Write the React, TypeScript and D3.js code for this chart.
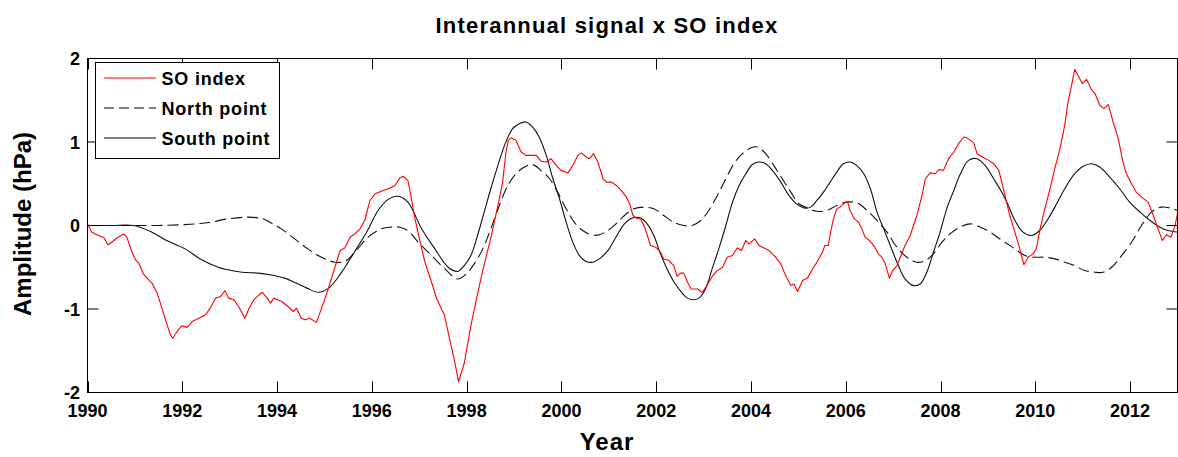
import React from "react";
import * as d3 from "d3";

// Axis ticks
const xTicks = [1990, 1992, 1994, 1996, 1998, 2000, 2002, 2004, 2006, 2008, 2010, 2012];
const yTicks = [-2, -1, 0, 1, 2];

// Series: [year, amplitude in hPa]
const soIndex: [number, number][] = [
  [1990.0, 0.02], [1990.09, -0.08], [1990.23, -0.12], [1990.34, -0.14], [1990.43, -0.23], [1990.51, -0.2],
  [1990.62, -0.15], [1990.76, -0.1], [1990.83, -0.14], [1990.94, -0.32], [1991.01, -0.41], [1991.08, -0.45],
  [1991.18, -0.58], [1991.29, -0.65], [1991.36, -0.69], [1991.47, -0.81], [1991.57, -0.99], [1991.68, -1.19],
  [1991.75, -1.31], [1991.8, -1.35], [1991.89, -1.27], [1991.99, -1.2], [1992.1, -1.22], [1992.21, -1.15],
  [1992.35, -1.11], [1992.49, -1.07], [1992.59, -0.99], [1992.7, -0.87], [1992.81, -0.85], [1992.9, -0.78],
  [1992.98, -0.87], [1993.09, -0.89], [1993.19, -0.97], [1993.32, -1.11], [1993.41, -0.99], [1993.51, -0.89],
  [1993.62, -0.83], [1993.69, -0.8], [1993.79, -0.87], [1993.86, -0.93], [1993.93, -0.87], [1994.1, -0.91],
  [1994.23, -0.97], [1994.34, -1.03], [1994.41, -0.99], [1994.51, -1.11], [1994.59, -1.13], [1994.69, -1.11],
  [1994.83, -1.16], [1994.94, -0.99], [1995.08, -0.76], [1995.22, -0.5], [1995.33, -0.3], [1995.43, -0.27],
  [1995.54, -0.14], [1995.64, -0.1], [1995.75, -0.04], [1995.85, 0.06], [1995.96, 0.3], [1996.07, 0.38],
  [1996.24, 0.42], [1996.38, 0.45], [1996.49, 0.48], [1996.59, 0.57], [1996.66, 0.59], [1996.76, 0.54],
  [1996.81, 0.4], [1996.91, 0.08], [1997.02, -0.2], [1997.12, -0.44], [1997.26, -0.68], [1997.37, -0.88],
  [1997.47, -1.0], [1997.53, -1.07], [1997.63, -1.33], [1997.74, -1.61], [1997.83, -1.87], [1997.95, -1.65],
  [1998.09, -1.2], [1998.23, -0.82], [1998.37, -0.47], [1998.51, -0.15], [1998.66, 0.24], [1998.76, 0.52],
  [1998.83, 0.88], [1998.88, 1.02], [1998.94, 1.05], [1999.04, 1.02], [1999.15, 0.88], [1999.25, 0.84],
  [1999.36, 0.84], [1999.47, 0.84], [1999.57, 0.77], [1999.68, 0.76], [1999.78, 0.8], [1999.89, 0.72],
  [1999.99, 0.66], [2000.14, 0.63], [2000.24, 0.72], [2000.35, 0.84], [2000.42, 0.87], [2000.52, 0.82],
  [2000.59, 0.8], [2000.68, 0.86], [2000.77, 0.76], [2000.88, 0.56], [2000.95, 0.52], [2001.05, 0.52],
  [2001.16, 0.48], [2001.26, 0.42], [2001.37, 0.34], [2001.44, 0.26], [2001.51, 0.12], [2001.6, 0.08],
  [2001.67, 0.08], [2001.77, -0.04], [2001.88, -0.24], [2001.99, -0.26], [2002.09, -0.32], [2002.16, -0.4],
  [2002.27, -0.42], [2002.37, -0.48], [2002.44, -0.61], [2002.51, -0.57], [2002.58, -0.57], [2002.66, -0.68],
  [2002.74, -0.76], [2002.87, -0.76], [2002.97, -0.8], [2003.08, -0.71], [2003.18, -0.61], [2003.29, -0.54],
  [2003.4, -0.5], [2003.5, -0.38], [2003.61, -0.36], [2003.71, -0.27], [2003.8, -0.3], [2003.89, -0.18],
  [2003.96, -0.22], [2004.08, -0.16], [2004.17, -0.24], [2004.28, -0.27], [2004.38, -0.3], [2004.49, -0.36],
  [2004.63, -0.46], [2004.73, -0.6], [2004.84, -0.72], [2004.91, -0.7], [2004.98, -0.79], [2005.09, -0.66],
  [2005.19, -0.63], [2005.3, -0.52], [2005.37, -0.46], [2005.49, -0.34], [2005.56, -0.24], [2005.63, -0.24],
  [2005.68, -0.08], [2005.74, 0.08], [2005.81, 0.2], [2005.88, 0.22], [2005.99, 0.28], [2006.04, 0.28],
  [2006.09, 0.18], [2006.18, 0.08], [2006.27, 0.04], [2006.34, -0.04], [2006.41, -0.14], [2006.5, -0.18],
  [2006.59, -0.24], [2006.69, -0.34], [2006.76, -0.38], [2006.83, -0.45], [2006.92, -0.63], [2006.99, -0.54],
  [2007.08, -0.48], [2007.15, -0.38], [2007.25, -0.24], [2007.36, -0.12], [2007.43, 0.0], [2007.5, 0.12],
  [2007.61, 0.36], [2007.68, 0.56], [2007.78, 0.63], [2007.89, 0.62], [2007.96, 0.67], [2008.06, 0.66],
  [2008.17, 0.8], [2008.28, 0.88], [2008.38, 0.98], [2008.49, 1.06], [2008.56, 1.05], [2008.63, 1.02],
  [2008.7, 0.99], [2008.77, 0.86], [2008.88, 0.82], [2009.02, 0.78], [2009.12, 0.74], [2009.23, 0.66],
  [2009.29, 0.52], [2009.36, 0.36], [2009.46, 0.12], [2009.57, -0.08], [2009.67, -0.28], [2009.76, -0.47],
  [2009.85, -0.38], [2009.95, -0.34], [2010.02, -0.28], [2010.1, -0.04], [2010.2, 0.2], [2010.31, 0.44],
  [2010.41, 0.68], [2010.52, 0.92], [2010.62, 1.2], [2010.69, 1.48], [2010.78, 1.72], [2010.83, 1.87],
  [2010.9, 1.8], [2010.99, 1.7], [2011.08, 1.75], [2011.19, 1.62], [2011.26, 1.58], [2011.36, 1.44],
  [2011.45, 1.4], [2011.54, 1.45], [2011.64, 1.24], [2011.75, 1.04], [2011.85, 0.76], [2011.92, 0.62],
  [2012.03, 0.5], [2012.13, 0.4], [2012.24, 0.34], [2012.38, 0.28], [2012.49, 0.12], [2012.59, -0.04],
  [2012.68, -0.18], [2012.77, -0.11], [2012.86, -0.14], [2012.94, -0.02], [2013.0, 0.14],
];

const northPoint: [number, number][] = [
  [1990.0, 0], [1990.5, 0], [1991.0, 0], [1991.5, 0], [1992.0, 0.01], [1992.3, 0.02], [1992.6, 0.04],
  [1992.97, 0.08], [1993.4, 0.1], [1993.7, 0.08], [1993.85, 0.04], [1994.09, -0.04], [1994.37, -0.16],
  [1994.65, -0.28], [1994.94, -0.38], [1995.22, -0.44], [1995.43, -0.43], [1995.64, -0.32], [1995.92, -0.14],
  [1996.2, -0.04], [1996.41, -0.02], [1996.59, -0.02], [1996.76, -0.06], [1996.98, -0.2], [1997.26, -0.36],
  [1997.54, -0.52], [1997.81, -0.64], [1997.99, -0.58], [1998.16, -0.46], [1998.34, -0.28], [1998.51, -0.04],
  [1998.69, 0.24], [1998.87, 0.48], [1999.04, 0.62], [1999.22, 0.7], [1999.39, 0.73], [1999.57, 0.66],
  [1999.75, 0.56], [1999.92, 0.4], [2000.1, 0.2], [2000.27, 0.04], [2000.45, -0.06], [2000.62, -0.11],
  [2000.8, -0.11], [2000.98, -0.06], [2001.15, 0.02], [2001.33, 0.12], [2001.53, 0.2], [2001.74, 0.22],
  [2001.95, 0.2], [2002.16, 0.12], [2002.37, 0.04], [2002.59, 0.0], [2002.76, 0.0], [2002.94, 0.06],
  [2003.11, 0.18], [2003.29, 0.36], [2003.47, 0.56], [2003.64, 0.74], [2003.82, 0.86], [2004.0, 0.93],
  [2004.13, 0.94], [2004.31, 0.86], [2004.48, 0.72], [2004.66, 0.56], [2004.84, 0.4], [2005.01, 0.26],
  [2005.19, 0.21], [2005.39, 0.17], [2005.6, 0.18], [2005.81, 0.24], [2006.02, 0.28], [2006.24, 0.27],
  [2006.45, 0.18], [2006.66, 0.06], [2006.87, -0.08], [2007.08, -0.26], [2007.29, -0.38], [2007.5, -0.44],
  [2007.68, -0.42], [2007.85, -0.34], [2008.03, -0.2], [2008.2, -0.1], [2008.41, -0.02], [2008.63, 0.02],
  [2008.84, -0.02], [2009.05, -0.08], [2009.2, -0.14], [2009.36, -0.2], [2009.57, -0.28], [2009.78, -0.36],
  [2009.99, -0.38], [2010.2, -0.38], [2010.41, -0.4], [2010.62, -0.44], [2010.83, -0.48], [2011.04, -0.54],
  [2011.26, -0.56], [2011.43, -0.56], [2011.61, -0.5], [2011.82, -0.36], [2012.03, -0.2], [2012.24, 0.0],
  [2012.45, 0.16], [2012.66, 0.22], [2012.84, 0.21], [2013.0, 0.18],
];

const southPoint: [number, number][] = [
  [1990.0, 0], [1990.5, 0], [1990.97, 0], [1991.36, -0.08], [1991.67, -0.18], [1992.06, -0.28],
  [1992.38, -0.4], [1992.76, -0.5], [1992.96, -0.53], [1993.26, -0.56], [1993.61, -0.57], [1993.85, -0.59],
  [1994.16, -0.63], [1994.4, -0.69], [1994.63, -0.75], [1994.87, -0.8], [1995.09, -0.75], [1995.35, -0.57],
  [1995.63, -0.32], [1995.91, -0.06], [1996.13, 0.18], [1996.34, 0.31], [1996.55, 0.35], [1996.76, 0.28],
  [1997.05, -0.04], [1997.33, -0.28], [1997.61, -0.5], [1997.81, -0.55], [1997.95, -0.48], [1998.09, -0.36],
  [1998.23, -0.12], [1998.37, 0.16], [1998.51, 0.44], [1998.66, 0.72], [1998.8, 0.96], [1998.97, 1.16],
  [1999.11, 1.22], [1999.25, 1.24], [1999.39, 1.18], [1999.53, 1.06], [1999.68, 0.84], [1999.82, 0.56],
  [1999.96, 0.32], [2000.1, 0.04], [2000.24, -0.2], [2000.38, -0.36], [2000.52, -0.43], [2000.66, -0.44],
  [2000.8, -0.4], [2000.98, -0.3], [2001.15, -0.14], [2001.33, 0.02], [2001.5, 0.09], [2001.67, 0.09],
  [2001.81, 0.02], [2001.95, -0.12], [2002.09, -0.34], [2002.23, -0.52], [2002.38, -0.68], [2002.52, -0.79],
  [2002.66, -0.87], [2002.78, -0.89], [2002.9, -0.87], [2003.04, -0.76], [2003.18, -0.52], [2003.32, -0.28],
  [2003.47, 0.0], [2003.61, 0.28], [2003.75, 0.48], [2003.89, 0.62], [2004.03, 0.73], [2004.17, 0.76],
  [2004.31, 0.74], [2004.45, 0.66], [2004.63, 0.52], [2004.8, 0.36], [2004.98, 0.25], [2005.12, 0.21],
  [2005.26, 0.22], [2005.39, 0.3], [2005.53, 0.4], [2005.67, 0.52], [2005.81, 0.64], [2005.95, 0.74],
  [2006.09, 0.76], [2006.23, 0.72], [2006.38, 0.62], [2006.52, 0.44], [2006.66, 0.16], [2006.8, -0.04],
  [2006.94, -0.24], [2007.11, -0.48], [2007.25, -0.64], [2007.43, -0.72], [2007.57, -0.7], [2007.71, -0.56],
  [2007.85, -0.32], [2007.99, -0.08], [2008.13, 0.2], [2008.28, 0.42], [2008.42, 0.62], [2008.59, 0.78],
  [2008.77, 0.8], [2008.94, 0.72], [2009.12, 0.56], [2009.29, 0.4], [2009.43, 0.24], [2009.57, 0.06],
  [2009.74, -0.08], [2009.92, -0.12], [2010.09, -0.06], [2010.27, 0.08], [2010.45, 0.26], [2010.62, 0.44],
  [2010.83, 0.62], [2011.01, 0.71], [2011.19, 0.74], [2011.36, 0.7], [2011.57, 0.58], [2011.78, 0.44],
  [2011.99, 0.28], [2012.21, 0.16], [2012.42, 0.06], [2012.63, -0.02], [2012.8, -0.06], [2013.0, -0.08],
];

const legendItems = [
  { label: "SO index", color: "#ff0000", dash: undefined as string | undefined },
  { label: "North point", color: "#000000", dash: "10,5" },
  { label: "South point", color: "#000000", dash: undefined as string | undefined },
];

const W = 1178;
const H = 457;
const FONT = "'Liberation Sans', Arial, Helvetica, sans-serif";

export default function App() {
  const x = d3.scaleLinear().domain([1990, 2013]).range([87.5, 1177.5]);
  const y = d3.scaleLinear().domain([-2, 2]).range([392.5, 58.5]);

  const smooth = d3
    .line<[number, number]>()
    .x((d) => x(d[0]))
    .y((d) => y(d[1]))
    .curve(d3.curveCatmullRom.alpha(0.5));
  const jagged = d3
    .line<[number, number]>()
    .x((d) => x(d[0]))
    .y((d) => y(d[1]))
    .curve(d3.curveLinear);

  const [x0, x1] = x.range();
  const [yb, yt] = y.range();
  const tickLen = 11;

  const legX = 95.5;
  const legY = 62.5;
  const legW = 184;
  const legH = 96;
  const rowY = [78, 108, 138];

  return (
    <svg
      width={W}
      height={H}
      style={{ position: "absolute", left: 0, top: 0, background: "#fff" }}
      fontFamily={FONT}
    >
      <rect x={0} y={0} width={W} height={H} fill="#fff" />

      {/* series */}
      <path d={smooth(northPoint) || ""} fill="none" stroke="#111" strokeWidth={1.1} strokeDasharray="11,5" />
      <path d={smooth(southPoint) || ""} fill="none" stroke="#111" strokeWidth={1.1} />
      <path d={jagged(soIndex) || ""} fill="none" stroke="#ff0000" strokeWidth={1.1} strokeLinejoin="round" />

      {/* frame */}
      <rect x={x0} y={yt} width={x1 - x0} height={yb - yt} fill="none" stroke="#000" strokeWidth={1} />

      {/* x ticks (bottom and top, inward) */}
      {xTicks.map((t) => (
        <g key={"xt" + t}>
          <line x1={Math.round(x(t)) + 0.5} x2={Math.round(x(t)) + 0.5} y1={yb} y2={yb - tickLen} stroke="#000" />
          <line x1={Math.round(x(t)) + 0.5} x2={Math.round(x(t)) + 0.5} y1={yt} y2={yt + tickLen} stroke="#000" />
          <text x={x(t)} y={417} textAnchor="middle" fontSize={18} fontWeight="bold" fill="#000">
            {t}
          </text>
        </g>
      ))}

      {/* y ticks (left and right, inward) */}
      {yTicks.map((t) => (
        <g key={"yt" + t}>
          <line x1={x0} x2={x0 + tickLen} y1={y(t)} y2={y(t)} stroke="#000" />
          <line x1={x1} x2={x1 - tickLen} y1={y(t)} y2={y(t)} stroke="#000" />
          <text x={80} y={y(t) + 6.5} textAnchor="end" fontSize={18} fontWeight="bold" fill="#000">
            {t}
          </text>
        </g>
      ))}

      {/* legend */}
      <rect x={legX} y={legY} width={legW} height={legH} fill="#fff" stroke="#000" strokeWidth={1} />
      {legendItems.map((item, i) => (
        <g key={item.label}>
          <line
            x1={104}
            x2={156}
            y1={rowY[i]}
            y2={rowY[i]}
            stroke={item.color}
            strokeWidth={1.1}
            strokeDasharray={item.dash}
          />
          <text x={161.5} y={rowY[i] + 6.5} fontSize={18} fontWeight="bold" letterSpacing={0.8} fill="#000">
            {item.label}
          </text>
        </g>
      ))}

      {/* titles */}
      <text x={607} y={33} textAnchor="middle" fontSize={22} fontWeight="bold" letterSpacing={1.2} fill="#000">
        Interannual signal x SO index
      </text>
      <text x={607} y={450} textAnchor="middle" fontSize={24} fontWeight="bold" letterSpacing={1} fill="#000">
        Year
      </text>
      <text
        transform="translate(31,224) rotate(-90)"
        textAnchor="middle"
        fontSize={24}
        fontWeight="bold"
        fill="#000"
      >
        Amplitude (hPa)
      </text>
    </svg>
  );
}
